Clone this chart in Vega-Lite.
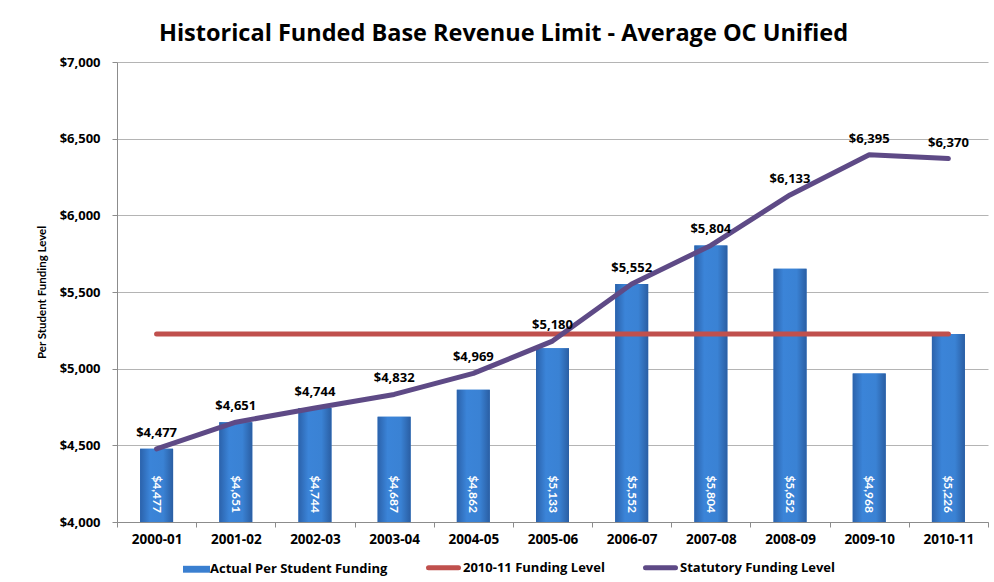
{
  "$schema": "https://vega.github.io/schema/vega-lite/v6.json",
  "width": 871,
  "height": 460,
  "autosize": {"type": "none"},
  "padding": {"left": 117, "top": 62, "right": 6, "bottom": 60},
  "background": "white",
  "config": {"font": "Open Sans", "view": {"stroke": null}},
  "title": {"text": "Historical Funded Base Revenue Limit - Average OC Unified", "font": "Open Sans", "fontSize": 23.5, "fontWeight": "bold", "color": "#000000", "anchor": "middle", "frame": "group", "dx": -49, "offset": 11},
  "data": {"values": [
    {"year": "2000-01", "actual": 4477, "statutory": 4477, "level": 5226},
    {"year": "2001-02", "actual": 4651, "statutory": 4651, "level": 5226},
    {"year": "2002-03", "actual": 4744, "statutory": 4744, "level": 5226},
    {"year": "2003-04", "actual": 4687, "statutory": 4832, "level": 5226},
    {"year": "2004-05", "actual": 4862, "statutory": 4969, "level": 5226},
    {"year": "2005-06", "actual": 5133, "statutory": 5180, "level": 5226},
    {"year": "2006-07", "actual": 5552, "statutory": 5552, "level": 5226},
    {"year": "2007-08", "actual": 5804, "statutory": 5804, "level": 5226},
    {"year": "2008-09", "actual": 5652, "statutory": 6133, "level": 5226},
    {"year": "2009-10", "actual": 4968, "statutory": 6395, "level": 5226},
    {"year": "2010-11", "actual": 5226, "statutory": 6370, "level": 5226}
  ]},
  "encoding": {
    "x": {"field": "year", "type": "ordinal", "title": null,
      "scale": {"paddingInner": 0, "paddingOuter": 0},
      "axis": {"labelAngle": 0, "labelFont": "Open Sans", "labelFontSize": 13.5, "labelFontWeight": "bold", "labelColor": "#000000", "domainColor": "#8c8c8c", "tickColor": "#8c8c8c", "tickSize": 5, "tickBand": "extent", "labelPadding": 5}}
  },
  "layer": [
    {
      "mark": {"type": "bar", "width": 33},
      "encoding": {
        "y": {"field": "actual", "type": "quantitative", "title": "Per Student Funding Level",
          "scale": {"domain": [4000, 7000], "nice": false, "zero": false},
          "axis": {"values": [4000, 4500, 5000, 5500, 6000, 6500, 7000], "format": "$,.0f", "labelFont": "Open Sans", "labelFontSize": 13, "labelFontWeight": "bold", "labelColor": "#000000", "gridColor": "#b4b4b4", "domainColor": "#8c8c8c", "tickColor": "#8c8c8c", "tickSize": 5, "labelPadding": 12, "titleFont": "Lato", "titleFontSize": 11.5, "titleFontWeight": "bold", "titleColor": "#000000", "titlePadding": 12}},
        "y2": {"datum": 4000},
        "color": {"datum": "Actual Per Student Funding", "type": "nominal",
          "scale": {"domain": ["Actual Per Student Funding", "2010-11 Funding Level", "Statutory Funding Level"], "range": ["#3a7fd0", "#c0504d", "#5e4a86"]},
          "legend": {"orient": "none", "legendX": 67, "legendY": 499, "padding": 0, "title": null, "direction": "horizontal", "labelFont": "Open Sans", "labelFontSize": 13, "labelFontWeight": "bold", "labelColor": "#000000", "labelLimit": 400, "symbolSize": 900, "columnPadding": 30, "labelOffset": 13,
            "encode": {"symbols": {"update": {
              "shape": {"signal": "datum.value === 'Actual Per Student Funding' ? 'M-0.5,-0.23H1.3V0.23H-0.5Z' : 'stroke'"},
              "strokeWidth": {"signal": "datum.value === 'Actual Per Student Funding' ? 0 : 5"},
              "strokeCap": {"value": "round"},
              "fill": {"scale": "color", "field": "value"},
              "stroke": {"scale": "color", "field": "value"},
              "opacity": {"value": 1}
            }}}}
        }
      }
    },
    {
      "mark": {"type": "bar", "width": 33, "fill": {"gradient": "linear", "x1": 0, "x2": 1, "y1": 0, "y2": 0, "stops": [{"offset": 0, "color": "#2b62ab"}, {"offset": 0.3, "color": "#3b84d8"}, {"offset": 0.7, "color": "#3a82d4"}, {"offset": 1, "color": "#2a5ea3"}]}},
      "encoding": {"y": {"field": "actual", "type": "quantitative"}, "y2": {"datum": 4000}}
    },
    {
      "mark": {"type": "text", "angle": 90, "align": "right", "baseline": "middle", "dx": -9, "color": "#ffffff", "font": "Lato", "fontSize": 12, "fontWeight": "bold"},
      "encoding": {"y": {"datum": 4000, "type": "quantitative"}, "text": {"field": "actual", "type": "quantitative", "format": "$,.0f"}}
    },
    {
      "mark": {"type": "line", "strokeWidth": 5, "strokeCap": "round", "color": "#c0504d"},
      "encoding": {"y": {"field": "level", "type": "quantitative"}, "color": {"datum": "2010-11 Funding Level", "type": "nominal"}}
    },
    {
      "mark": {"type": "line", "strokeWidth": 5, "strokeCap": "round", "strokeJoin": "round", "color": "#5e4a86"},
      "encoding": {"y": {"field": "statutory", "type": "quantitative"}, "color": {"datum": "Statutory Funding Level", "type": "nominal"}}
    },
    {
      "mark": {"type": "text", "dy": -16, "font": "Open Sans", "fontSize": 13, "fontWeight": "bold", "color": "#000000"},
      "encoding": {"y": {"field": "statutory", "type": "quantitative"}, "text": {"field": "statutory", "type": "quantitative", "format": "$,.0f"}}
    }
  ]
}
